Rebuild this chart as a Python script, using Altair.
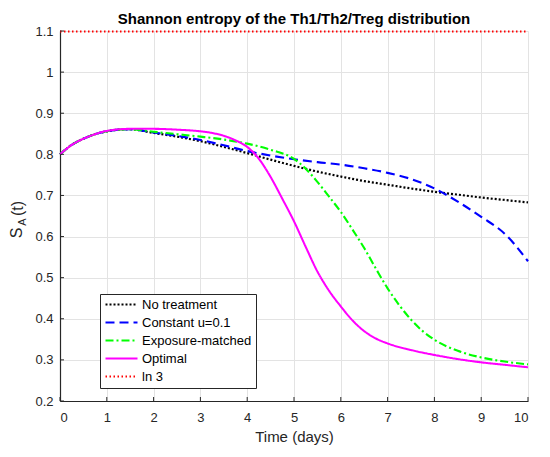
import altair as alt
import pandas as pd

# ---- data ----
series_names = ["No treatment", "Constant u=0.1", "Exposure-matched", "Optimal", "ln 3"]
series_colors = ["#000000", "#0000ff", "#00ff00", "#ff00ff", "#ff0000"]
series_dash = [[2, 2], [9, 5], [8, 3, 2, 3], [1, 0], [1.5, 2.5]]
series_width = [2.2, 2, 2, 2, 1.5]

t_start = [0, 0.25, 0.5, 0.75, 1.0, 1.25, 1.5]
v_start = [0.80, 0.823, 0.838, 0.849, 0.856, 0.860, 0.861]

t_none = t_start + [2, 2.5, 3, 3.5, 4, 4.5, 5, 5.5, 6, 6.5, 7, 7.5, 8, 8.5, 9, 9.5, 10]
v_none = v_start + [0.852, 0.843, 0.832, 0.818, 0.803, 0.787, 0.772, 0.758, 0.746,
                    0.735, 0.726, 0.717, 0.709, 0.702, 0.695, 0.689, 0.683]

t_const = t_start + [2, 2.5, 3, 3.5, 4, 4.5, 5, 5.5, 6, 6.5, 7, 7.5, 8, 8.5, 9, 9.5, 10]
v_const = v_start + [0.853, 0.845, 0.835, 0.822, 0.808, 0.797, 0.788, 0.781, 0.775,
                     0.766, 0.755, 0.740, 0.717, 0.685, 0.648, 0.607, 0.540]

t_expo = t_start + [2, 2.5, 3, 3.5, 4, 4.5, 5, 5.25, 5.5, 5.75, 6, 6.25, 6.5, 6.75,
                    7, 7.25, 7.5, 7.75, 8, 8.5, 9, 9.5, 10]
v_expo = v_start + [0.855, 0.849, 0.843, 0.836, 0.826, 0.811, 0.789, 0.765, 0.733,
                    0.697, 0.660, 0.617, 0.572, 0.522, 0.474, 0.433, 0.398, 0.370,
                    0.349, 0.322, 0.306, 0.296, 0.289]

t_opt = [0, 0.25, 0.5, 0.75, 1, 1.5, 2, 2.5, 3, 3.25, 3.5, 3.75, 4, 4.25, 4.5, 4.75,
         5, 5.25, 5.5, 5.75, 6, 6.25, 6.5, 6.75, 7, 7.5, 8, 8.5, 9, 9.5, 10]
v_opt = [0.80, 0.823, 0.838, 0.849, 0.857, 0.862, 0.862, 0.860, 0.856, 0.852, 0.845,
         0.834, 0.818, 0.789, 0.745, 0.692, 0.637, 0.575, 0.515, 0.468, 0.430, 0.396,
         0.370, 0.352, 0.340, 0.324, 0.312, 0.302, 0.294, 0.288, 0.282]

t_ln3 = [0, 10]
v_ln3 = [1.0986, 1.0986]

x_ticks = [0, 1, 2, 3, 4, 5, 6, 7, 8, 9, 10]
y_ticks = [0.2, 0.3, 0.4, 0.5, 0.6, 0.7, 0.8, 0.9, 1.0, 1.1]

title_text = ["Shannon entropy of the Th1/Th2/Treg distribution"]
ylab_parts = ["S", "A", "(t)"]

# ---- build table ----
rows = []
for name, ts, vs in zip(series_names,
                        [t_none, t_const, t_expo, t_opt, t_ln3],
                        [v_none, v_const, v_expo, v_opt, v_ln3]):
    for i, (t, v) in enumerate(zip(ts, vs)):
        rows.append({"series": name, "t": t, "v": v, "order": i})
df = pd.DataFrame(rows)

W, H = 468, 370
FONT = "Liberation Sans"
AX = "#262626"

xscale = alt.Scale(domain=[0, 10], nice=False)
yscale = alt.Scale(domain=[0.2, 1.1], nice=False, zero=False)

lines = alt.Chart(df).mark_line(interpolate="monotone").encode(
    x=alt.X("t:Q", scale=xscale,
            axis=alt.Axis(values=x_ticks, format="d", title="Time (days)",
                          titleY=40, titleBaseline="alphabetic", labelPadding=10)),
    y=alt.Y("v:Q", scale=yscale,
            axis=alt.Axis(values=y_ticks, format=".1~f", title=None, labelPadding=7)),
    color=alt.Color("series:N",
                    scale=alt.Scale(domain=series_names, range=series_colors),
                    legend=alt.Legend(title=None, orient="none", legendX=40, legendY=263)),
    strokeDash=alt.StrokeDash("series:N",
                              scale=alt.Scale(domain=series_names, range=series_dash),
                              legend=alt.Legend(title=None, orient="none", legendX=40, legendY=263)),
    strokeWidth=alt.StrokeWidth("series:N",
                                scale=alt.Scale(domain=series_names, range=series_width),
                                legend=None),
    order="order:Q",
)

xt = alt.Chart(pd.DataFrame({"t": x_ticks})).mark_rule(color=AX, strokeWidth=1).encode(
    x=alt.X("t:Q", scale=xscale), y=alt.value(H), y2=alt.value(H - 4))
yt = alt.Chart(pd.DataFrame({"v": y_ticks})).mark_rule(color=AX, strokeWidth=1).encode(
    y=alt.Y("v:Q", scale=yscale), x=alt.value(0), x2=alt.value(4))

ttl = alt.Chart(pd.DataFrame({"s": title_text})).mark_text(
    align="center", baseline="alphabetic", fontSize=15, fontWeight="bold",
    font=FONT, color="#000000"
).encode(text="s:N", x=alt.value(W / 2), y=alt.value(-7))

ydf = pd.DataFrame({"s": ylab_parts})
yl_s = alt.Chart(ydf[ydf.s == "S"]).mark_text(
    angle=270, align="center", baseline="middle", fontSize=16, font=FONT, color=AX
).encode(text="s:N", x=alt.value(-43), y=alt.value(202))
yl_a = alt.Chart(ydf[ydf.s == "A"]).mark_text(
    angle=270, align="center", baseline="middle", fontSize=11, font=FONT, color=AX
).encode(text="s:N", x=alt.value(-37.5), y=alt.value(191))
yl_t = alt.Chart(ydf[ydf.s == "(t)"]).mark_text(
    angle=270, align="center", baseline="middle", fontSize=16, font=FONT, color=AX
).encode(text="s:N", x=alt.value(-42.5), y=alt.value(177.5))

chart = alt.layer(lines, xt, yt, ttl, yl_s, yl_a, yl_t).properties(
    width=W, height=H,
    autosize=alt.AutoSizeParams(type="none"),
    padding={"left": 52, "top": 23, "right": 14, "bottom": 48},
).configure_view(stroke=None).configure_axis(
    labelFont=FONT, labelFontSize=13, labelColor=AX,
    titleFont=FONT, titleFontSize=15, titleColor=AX, titleFontWeight="normal",
    ticks=False,
    domainColor=AX, domainWidth=1.2,
    gridColor="#e3e3e3", gridWidth=1,
).configure_legend(
    fillColor="white", strokeColor=AX, padding=4, rowPadding=4,
    symbolType="stroke", symbolSize=1024, symbolStrokeWidth=2,
    labelFont=FONT, labelFontSize=13, labelColor="#000000", labelOffset=3,
    clipHeight=13, symbolLimit=0,
)

chart.save("out.html", embed_options={"renderer": "svg", "actions": False})
